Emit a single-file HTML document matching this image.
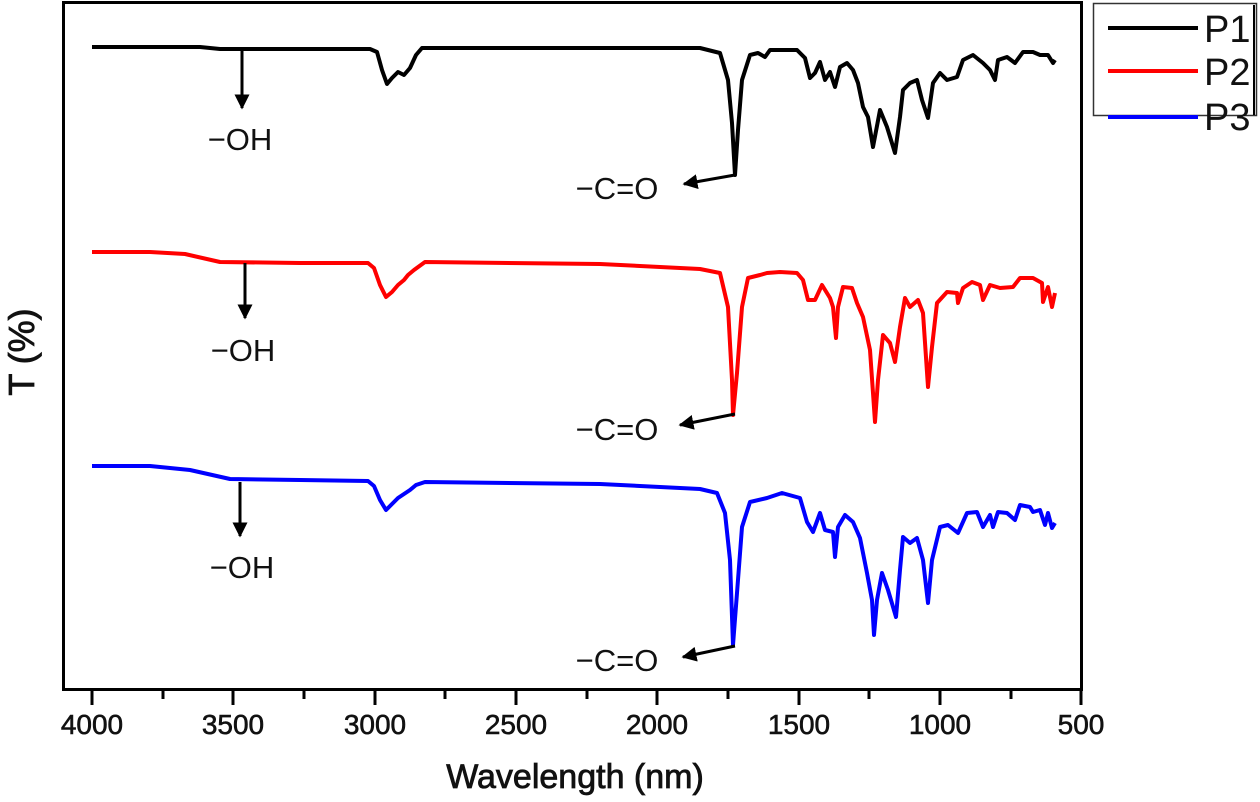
<!DOCTYPE html>
<html><head><meta charset="utf-8"><style>
html,body{margin:0;padding:0;background:#fff;}
svg{display:block;font-family:"Liberation Sans",Arial,sans-serif;}
</style></head><body>
<svg width="1260" height="802" viewBox="0 0 1260 802" xmlns="http://www.w3.org/2000/svg">
<defs>
<marker id="ah" viewBox="0 0 10 10" refX="9" refY="5" markerWidth="5" markerHeight="5" orient="auto"><path d="M0,0 L10,5 L0,10 z" fill="#000"/></marker>
</defs>
<rect x="63.5" y="2.5" width="1018" height="687" fill="none" stroke="#000" stroke-width="3"/>
<g stroke="#000" stroke-width="3">
<line x1="92" y1="690" x2="92" y2="705"/><line x1="163" y1="690" x2="163" y2="699"/>
<line x1="233" y1="690" x2="233" y2="705"/><line x1="304" y1="690" x2="304" y2="699"/>
<line x1="375" y1="690" x2="375" y2="705"/><line x1="445" y1="690" x2="445" y2="699"/>
<line x1="516" y1="690" x2="516" y2="705"/><line x1="587" y1="690" x2="587" y2="699"/>
<line x1="657" y1="690" x2="657" y2="705"/><line x1="728" y1="690" x2="728" y2="699"/>
<line x1="799" y1="690" x2="799" y2="705"/><line x1="869" y1="690" x2="869" y2="699"/>
<line x1="940" y1="690" x2="940" y2="705"/><line x1="1011" y1="690" x2="1011" y2="699"/>
<line x1="1081" y1="690" x2="1081" y2="705"/>
</g>
<g font-size="28" text-anchor="middle" fill="#111" stroke="#111" stroke-width="0.6">
<text x="92" y="734">4000</text><text x="233" y="734">3500</text><text x="375" y="734">3000</text>
<text x="516" y="734">2500</text><text x="657" y="734">2000</text><text x="799" y="734">1500</text>
<text x="940" y="734">1000</text><text x="1081" y="734">500</text>
</g>
<text x="575" y="788" font-size="34" text-anchor="middle" fill="#111" stroke="#111" stroke-width="0.8">Wavelength (nm)</text>
<text transform="translate(34,352) rotate(-90)" font-size="36" text-anchor="middle" fill="#111" stroke="#111" stroke-width="0.8">T (%)</text>

<g fill="none" stroke-width="4" stroke-linejoin="round">
<polyline stroke="#000" points="92,47 200,47 220,49 300,49 370,49 377,52 382,70 387,84 392,78 398,72 404,75 410,68 416,55 422,48 600,48 700,48 720,53 728,80 732,123 735,175 738,130 742,80 750,55 758,53 765,57 770,50 797,50 805,58 810,78 815,73 820,62 825,80 830,72 835,87 840,67 847,63 853,70 858,83 863,107 868,117 873,147 880,110 887,127 895,153 900,117 903,90 910,83 917,80 922,100 928,118 933,83 940,73 947,80 957,77 963,60 973,55 983,63 990,70 995,80 998,60 1007,57 1015,63 1023,52 1033,52 1040,55 1048,55 1053,63 1055,60"/>
<polyline stroke="#f00" points="92,252 150,252 185,254 220,262 300,263 368,263 374,268 380,285 386,297 392,292 398,285 404,280 408,275 414,270 425,262 600,264 700,269 720,273 728,307 732,380 733,415 737,373 742,307 748,278 760,275 767,273 780,272 797,273 803,280 808,300 815,300 822,285 830,298 833,307 836,338 838,307 843,287 852,288 857,303 863,317 870,350 873,393 875,422 878,380 883,335 890,343 895,362 900,327 905,298 910,307 918,300 923,313 928,387 932,347 937,303 947,292 957,293 958,303 963,288 972,282 980,285 983,300 990,285 1000,288 1013,287 1020,278 1033,278 1042,283 1043,302 1048,287 1052,307 1055,293"/>
<polyline stroke="#00f" points="92,466 150,466 190,470 230,479 300,480 368,481 374,486 380,500 386,510 392,504 398,498 404,494 410,490 416,485 425,482 600,484 700,489 717,493 725,513 730,560 733,645 737,593 742,527 750,502 767,498 782,493 800,498 807,522 813,532 820,513 825,530 833,532 835,557 838,527 845,515 853,522 860,538 867,573 872,600 874,635 877,600 882,573 888,590 896,617 900,570 903,537 910,543 917,538 923,560 928,603 932,560 940,527 948,525 958,533 967,513 977,512 983,527 990,515 993,527 998,512 1007,513 1015,520 1020,505 1030,507 1033,512 1040,510 1045,525 1048,513 1052,528 1055,523"/>
</g>

<g stroke="#000" stroke-width="3" fill="none">
<line x1="242" y1="50" x2="242" y2="108" marker-end="url(#ah)"/>
<line x1="245" y1="263" x2="245" y2="318" marker-end="url(#ah)"/>
<line x1="240" y1="482" x2="240" y2="536" marker-end="url(#ah)"/>
<line x1="735" y1="175" x2="684" y2="184" marker-end="url(#ah)"/>
<line x1="735" y1="414" x2="680" y2="425" marker-end="url(#ah)"/>
<line x1="735" y1="646" x2="683" y2="657" marker-end="url(#ah)"/>
</g>
<g font-size="31" fill="#111" text-anchor="middle">
<text x="240" y="150">−OH</text>
<text x="243" y="361">−OH</text>
<text x="242" y="578">−OH</text>
<text x="617" y="199">−C=O</text>
<text x="617" y="440">−C=O</text>
<text x="617" y="671">−C=O</text>
</g>

<rect x="1093.5" y="3.5" width="163" height="112" fill="#fff" stroke="#333" stroke-width="1.5"/>
<line x1="1254" y1="5" x2="1254" y2="115" stroke="#000" stroke-width="2"/>
<g stroke-width="4">
<line x1="1108" y1="28" x2="1198" y2="28" stroke="#000"/>
<line x1="1108" y1="71" x2="1198" y2="71" stroke="#f00"/>
<line x1="1108" y1="117" x2="1198" y2="117" stroke="#00f"/>
</g>
<g font-size="38" fill="#111">
<text x="1204" y="42">P1</text>
<text x="1204" y="85">P2</text>
<text x="1204" y="130">P3</text>
</g>
</svg>
</body></html>
